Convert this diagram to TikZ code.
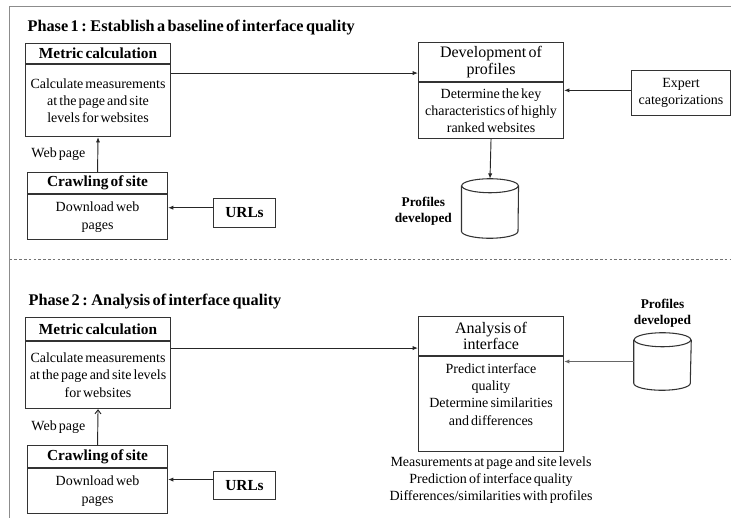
\documentclass[tikz,border=0pt]{standalone}
\usepackage{fontspec}
\setmainfont[WordSpace=0.6]{Liberation Serif}
\usetikzlibrary{arrows.meta}

\begin{document}
\begin{tikzpicture}[x=0.75pt,y=-0.75pt,
  every node/.style={inner sep=1pt},
  frame/.style={draw=black!45, line width=0.8pt},
  sep/.style={draw=black!55, line width=0.6pt, dash pattern=on 2pt off 1.6pt},
  boxline/.style={draw=black!80, line width=0.8pt},
  title/.style={anchor=west, font=\fontsize{12.2}{14}\selectfont\bfseries},
  hdr/.style={boxline, align=center, anchor=north west, minimum width=108.75pt},
  hdrb/.style={hdr, font=\fontsize{11.5}{13}\selectfont\bfseries},
  hdrn/.style={hdr, font=\fontsize{12}{12.5}\selectfont},
  body/.style={boxline, align=center, anchor=north, font=\fontsize{10.5}{13}\selectfont},
  smallbox/.style={boxline, align=center, anchor=north west},
  store/.style={rectangle, minimum width=42.4pt, minimum height=44.25pt, inner sep=0pt},
  storelabel/.style={align=center, font=\fontsize{10}{12}\selectfont\bfseries},
  lbl/.style={font=\fontsize{10.5}{13}\selectfont},
  arr/.style={draw=black!85, line width=0.7pt, -{Latex[length=4pt,width=3.2pt]}},
  arro/.style={draw=black!85, line width=0.7pt, -{Straight Barb[length=3pt,width=4.5pt]}}
]
% draws a database cylinder around the named (invisible) store node #1
\newcommand{\dbcyl}[1]{%
  \draw[boxline] ([yshift=-5.25pt]#1.north west) -- ([yshift=5.25pt]#1.south west)
    arc[start angle=180, end angle=360, x radius=21.2pt, y radius=5.25pt]
    -- ([yshift=-5.25pt]#1.north east);
  \draw[boxline] ([yshift=-5.25pt]#1.north) ellipse[x radius=21.2pt, y radius=5.25pt];
}
\useasboundingbox (0,0) rectangle (731,518);

% outer frame and phase separator
\draw[frame] (731,6.5) -- (9.5,6.5) -- (9.5,518);
\draw[sep] (9.5,259) -- (731,259);

% ---------------- Phase 1 ----------------
\node[title] (t1) at (26,28) {Phase 1 : Establish a baseline of interface quality};

\node[hdrb, minimum height=15pt] (m1h) at (25,43) {Metric calculation};
\node[body, minimum width=108.75pt, minimum height=54pt] (m1b) at (m1h.south)
  {Calculate measurements\\at the page and site\\levels for websites};

\node[hdrn, minimum height=29.25pt] (d1h) at (418,42) {Development of\\profiles};
\node[body, minimum width=108.75pt, minimum height=42pt] (d1b) at (d1h.south)
  {Determine the key\\characteristics of highly\\ranked websites};

\node[smallbox, minimum width=74.25pt, minimum height=33.75pt,
  font=\fontsize{10.5}{12.5}\selectfont] (ex1) at (631,70) {Expert\\categorizations};

\node[store] (p1) at (490,208.5) {};
\dbcyl{p1}
\node[storelabel, anchor=east] (p1l) at ([xshift=-6pt,yshift=-2pt]p1.west) {Profiles\\developed};

\node[hdrb, minimum width=105pt, minimum height=15.75pt] (c1h) at (27,172) {Crawling of site};
\node[body, minimum width=105pt, minimum height=33.75pt] (c1b) at (c1h.south)
  {Download web\\pages};

\node[smallbox, minimum width=46.5pt, minimum height=21.75pt,
  font=\fontsize{11.5}{13}\selectfont\bfseries] (u1) at (213,198) {URLs};

\draw[arr] ([yshift=-6.75pt]m1b.north east) -- ([yshift=-6.75pt]m1b.north east -| d1h.west);
\draw[arr] ([yshift=2pt]ex1.west) -- ([yshift=2pt]ex1.west -| d1b.east);
\draw[arr] (d1b.south) -- (p1.north);
\draw[arr] (c1h.north) -- node[lbl, anchor=east, xshift=-8pt] (w1) {Web page} (m1b.south);
\draw[arr] ([yshift=4pt]u1.west) -- ([yshift=4pt]u1.west -| c1b.east);

% ---------------- Phase 2 ----------------
\node[title] (t2) at (27,301.5) {Phase 2 : Analysis of interface quality};

\node[hdrb, minimum height=17.25pt] (m2h) at (25,317) {Metric calculation};
\node[body, minimum width=108.75pt, minimum height=50.25pt] (m2b) at (m2h.south)
  {Calculate measurements\\at the page and site levels\\for websites};

\node[hdrn, minimum height=29.25pt] (a2h) at (418,316) {Analysis of\\interface};
\node[body, minimum width=108.75pt, minimum height=71.25pt] (a2b) at (a2h.south)
  {Predict interface\\quality\\Determine similarities\\and differences\\[2pt]~};

\node[store, minimum width=42.75pt, minimum height=42.75pt] (p2) at (662.5,361.5) {};
\dbcyl{p2}
\node[storelabel, anchor=south] (p2l) at ([yshift=3pt]p2.north) {Profiles\\developed};

\node[lbl, align=center, anchor=north, font=\fontsize{10.5}{12.75}\selectfont] (out2)
  at ([yshift=-2.5pt]a2b.south)
  {Measurements at page and site levels\\Prediction of interface quality\\Differences/similarities with profiles};

\node[hdrb, minimum width=105pt, minimum height=16.5pt] (c2h) at (27,445) {Crawling of site};
\node[body, minimum width=105pt, minimum height=33.75pt] (c2b) at (c2h.south)
  {Download web\\pages};

\node[smallbox, minimum width=46.5pt, minimum height=21pt,
  font=\fontsize{11.5}{13}\selectfont\bfseries] (u2) at (213,471) {URLs};

\draw[arr] ([yshift=-5.25pt]m2b.north east) -- ([yshift=-5.25pt]m2b.north east -| a2h.west);
\draw[arr, draw=black!60, line width=1pt] (p2.west) -- (p2.west -| a2b.east);
\draw[arro] (c2h.north) -- node[lbl, anchor=east, xshift=-8pt] (w2) {Web page} (m2b.south);
\draw[arr] ([yshift=4.5pt]u2.west) -- ([yshift=4.5pt]u2.west -| c2b.east);
\end{tikzpicture}
\end{document}
